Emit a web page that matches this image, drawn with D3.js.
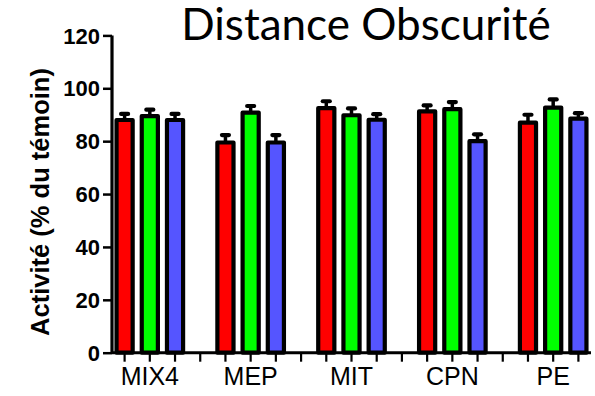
<!DOCTYPE html>
<html><head><meta charset="utf-8">
<script src="https://cdn.jsdelivr.net/npm/d3@7"></script>
<style>html,body{margin:0;padding:0;background:#fff;}svg{display:block;}</style>
</head><body>
<svg id="chart" width="595" height="396"></svg>
<script>
const categories = ["MIX4", "MEP", "MIT", "CPN", "PE"];
const seriesNames = ["s1", "s2", "s3"];
const seriesColors = ["#ff0000", "#00ff00", "#5555ff"];
const values1 = [88, 79.5, 92.5, 91.3, 87];
const values2 = [89.5, 90.8, 89.8, 92.1, 92.7];
const values3 = [88, 79.5, 88.1, 80, 88.5];
const errors1 = [2.3, 2.8, 2.6, 2.2, 3.0];
const errors2 = [2.4, 2.5, 2.6, 2.7, 3.1];
const errors3 = [2.3, 2.8, 2.1, 2.6, 2.1];
const yTicks = [0, 20, 40, 60, 80, 100, 120];
const title = "Distance Obscurité";
const yLabel = "Activité (% du témoin)";

const values = [values1, values2, values3];
const errors = [errors1, errors2, errors3];

const svg = d3.select("#chart");
const mLeft = 112, mRight = 591, mTop = 35.4, mBottom = 352.7;

// slots: 3 bars + gap per category (no trailing gap)
const slots = [];
categories.forEach((c, gi) => {
  seriesNames.forEach((s, si) => slots.push(c + "|" + s));
  if (gi < categories.length - 1) slots.push(c + "|gap");
});

const x = d3.scaleBand().domain(slots).range([mLeft, mRight]).paddingInner(0.36).paddingOuter(0.18);
const y = d3.scaleLinear().domain([0, 120]).range([mBottom, mTop]);

const bars = [];
categories.forEach((c, gi) => {
  seriesNames.forEach((s, si) => {
    bars.push({key: c + "|" + s, v: values[si][gi], e: errors[si][gi], color: seriesColors[si]});
  });
});

// error bars (drawn first so bar covers the bottom)
const eg = svg.append("g");
bars.forEach(b => {
  const cx = x(b.key) + x.bandwidth() / 2;
  eg.append("line").attr("x1", cx).attr("x2", cx).attr("y1", y(b.v)).attr("y2", y(b.v + b.e))
    .attr("stroke", "#000").attr("stroke-width", 3.5);
  eg.append("line").attr("x1", cx - 3.5).attr("x2", cx + 3.5).attr("y1", y(b.v + b.e)).attr("y2", y(b.v + b.e))
    .attr("stroke", "#000").attr("stroke-width", 4.2).attr("stroke-linecap", "round");
});

svg.append("g").selectAll("rect").data(bars).join("rect")
  .attr("x", d => x(d.key))
  .attr("y", d => y(d.v))
  .attr("width", x.bandwidth())
  .attr("height", d => y(0) - y(d.v))
  .attr("fill", d => d.color)
  .attr("stroke", "#000")
  .attr("stroke-width", 4.2)
  .attr("stroke-linejoin", "round");

// y axis
const yAxis = svg.append("g").attr("transform", `translate(${mLeft},0)`)
  .call(d3.axisLeft(y).tickValues(yTicks).tickSize(9).tickPadding(3).tickFormat(d3.format("d")));
yAxis.select(".domain").attr("d", `M0,${mTop}V${mBottom}`).attr("stroke-width", 3.2);
yAxis.selectAll(".tick line").attr("stroke-width", 2.5);
yAxis.selectAll("text").attr("font-family", "Liberation Sans, Arial, sans-serif")
  .attr("font-weight", "bold").attr("font-size", 22).attr("fill", "#000").attr("dy", "0.35em");

// x axis
const xAxis = svg.append("g").attr("transform", `translate(0,${mBottom})`)
  .call(d3.axisBottom(x).tickSize(9).tickFormat(""));
xAxis.select(".domain").attr("d", `M${mLeft},0H${mRight}`).attr("stroke-width", 3);
xAxis.selectAll(".tick line").attr("stroke-width", 2.2).attr("y1", 1);

// category labels
svg.append("g").selectAll("text").data(categories).join("text")
  .attr("x", c => x(c + "|s2") + x.bandwidth() / 2)
  .attr("y", 385)
  .attr("text-anchor", "middle")
  .attr("font-family", "Liberation Sans, Arial, sans-serif")
  .attr("font-size", 25)
  .attr("fill", "#000")
  .text(c => c);

// y label
svg.append("text")
  .attr("transform", "translate(49,202) rotate(-90)")
  .attr("text-anchor", "middle")
  .attr("font-family", "Liberation Sans, Arial, sans-serif")
  .attr("font-weight", "bold")
  .attr("font-size", 25.5)
  .attr("fill", "#000")
  .text(yLabel);

// title
svg.append("text")
  .attr("x", 366).attr("y", 40)
  .attr("text-anchor", "middle")
  .attr("font-family", "Lato, 'Open Sans', sans-serif")
  .attr("font-size", 44)
  .attr("fill", "#000")
  .text(title);
</script>
</body></html>
